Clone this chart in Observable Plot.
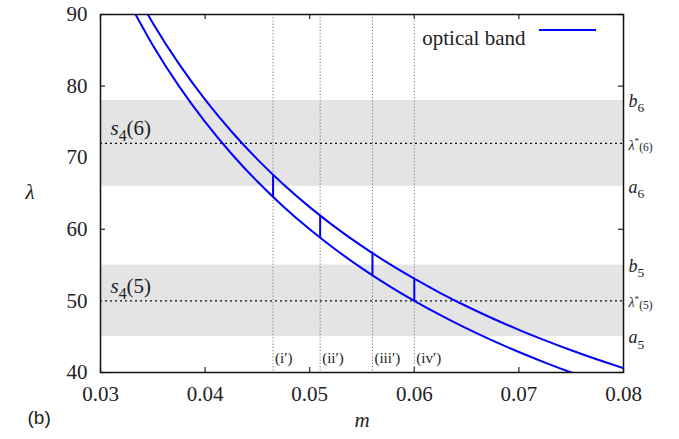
<!DOCTYPE html>
<html>
<head>
<meta charset="utf-8">
<script src="https://cdn.jsdelivr.net/npm/d3@7"></script>
<script src="https://cdn.jsdelivr.net/npm/@observablehq/plot@0.6"></script>
<style>
  html, body { margin: 0; padding: 0; background: #fff; }
  svg { display: block; }
  #chart svg text, #chart svg tspan { font-family: "Liberation Serif", "Times New Roman", serif; }
  #chart svg text.sans { font-family: "Liberation Sans", Arial, sans-serif; }
</style>
</head>
<body>
<div id="chart"></div>
<script>
// ---- data ----
const mGrid   = [0.0325, 0.035, 0.0375, 0.04, 0.0425, 0.045, 0.0475, 0.05, 0.0525, 0.055, 0.0575, 0.06, 0.0625, 0.065, 0.0675, 0.07, 0.0725, 0.075, 0.0775, 0.08];
const lowerLambda = [92.31, 85.71, 80.00, 75.00, 70.59, 66.67, 63.16, 60.00, 57.14, 54.55, 52.17, 50.00, 48.00, 46.15, 44.44, 42.86, 41.38, 40.00, 38.71, 37.50];
const upperLambda = [95.41, 88.81, 83.10, 78.10, 73.69, 69.77, 66.26, 63.10, 60.24, 57.65, 55.27, 53.10, 51.10, 49.25, 47.54, 45.96, 44.48, 43.10, 41.81, 40.60];

const cutM      = [0.0465, 0.051, 0.056, 0.060];
const cutLower  = [64.52, 58.82, 53.57, 50.00];
const cutUpper  = [67.62, 61.92, 56.67, 53.10];
const cutLabels = ["(i′)", "(ii′)", "(iii′)", "(iv′)"];

const bandA    = [66, 45];
const bandB    = [78, 55];
const bandStar = [72, 50];
const bandN    = ["6", "5"];

const xTicks = [0.03, 0.04, 0.05, 0.06, 0.07, 0.08];
const yTicks = [40, 50, 60, 70, 80, 90];
const legendLabel = "optical band";

// ---- tables built from the arrays ----
const lower = mGrid.map((m, i) => ({m, v: lowerLambda[i]}));
const upper = mGrid.map((m, i) => ({m, v: upperLambda[i]}));
const cuts = cutM.map((m, i) => ({m, lo: cutLower[i], hi: cutUpper[i], label: cutLabels[i]}));
const bands = bandA.map((a, i) => ({a, b: bandB[i], star: bandStar[i], n: bandN[i]}));
const edgeLabels = bands.flatMap(d => [
  {v: d.b, t: `<i>b</i><sub>${d.n}</sub>`},
  {v: d.a, t: `<i>a</i><sub>${d.n}</sub>`}
]);
const starLabels = bands.map(d => ({v: d.star, t: `<i>λ</i><sup>*</sup><small>(${d.n})</small>`}));
const sLabels = bands.map(d => ({v: d.star, t: `<i>s</i><sub>4</sub>(${d.n})`}));

const W = 679, H = 439, mL = 100, mR = 56, mT = 14, mB = 67;
const fw = W - mL - mR, fh = H - mT - mB;
const BLUE = "#0000ff", INK = "#222";
const serif = "Liberation Serif";

const plot = Plot.plot({
  width: W, height: H,
  marginLeft: mL, marginRight: mR, marginTop: mT, marginBottom: mB,
  style: {fontFamily: serif, fontSize: "21px", color: INK, background: "#fff"},
  x: {domain: [0.03, 0.08], axis: null},
  y: {domain: [40, 90], axis: null},
  marks: [
    // inward ticks on all four sides (under the bands, like the original)
    Plot.tickX(xTicks, {x: d => d, insetTop: fh - 5, stroke: INK, strokeWidth: 1.2}),
    Plot.tickX(xTicks, {x: d => d, insetBottom: fh - 5, stroke: INK, strokeWidth: 1.2}),
    Plot.tickY(yTicks, {y: d => d, insetRight: fw - 5, stroke: INK, strokeWidth: 1.2}),
    Plot.tickY(yTicks, {y: d => d, insetLeft: fw - 5, stroke: INK, strokeWidth: 1.2}),
    // grey bands
    Plot.rect(bands, {y1: "a", y2: "b", fill: "#e4e4e4"}),
    // dotted guides
    Plot.ruleX(cuts, {x: "m", stroke: "#777", strokeWidth: 1, strokeDasharray: "1.2,2"}),
    Plot.ruleY(bands, {y: "star", stroke: "#111", strokeWidth: 1.3, strokeDasharray: "2,3"}),
    // optical band curves
    Plot.line(lower, {x: "m", y: "v", stroke: BLUE, strokeWidth: 2, curve: "natural", clip: true}),
    Plot.line(upper, {x: "m", y: "v", stroke: BLUE, strokeWidth: 2, curve: "natural", clip: true}),
    Plot.ruleX(cuts, {x: "m", y1: "lo", y2: "hi", stroke: BLUE, strokeWidth: 2}),
    Plot.frame({stroke: "#111", strokeWidth: 1.5}),
    // axes
    Plot.axisX({ticks: xTicks, tickFormat: d3.format(".2f"), tickSize: 0, tickPadding: 14, label: null, fontSize: 21, fontFamily: serif}),
    Plot.axisY({ticks: yTicks, tickSize: 0, tickPadding: 13, label: null, fontSize: 21, fontFamily: serif}),
    // annotations
    Plot.text(cuts, {x: "m", text: "label", frameAnchor: "bottom", dx: 2, dy: -10, textAnchor: "start", fontSize: 15, fill: INK}),
    Plot.text(sLabels, {y: "v", text: "t", frameAnchor: "left", dx: 10, dy: -15, textAnchor: "start", fontSize: 21, fill: INK}),
    Plot.text(edgeLabels, {y: "v", text: "t", frameAnchor: "right", dx: 5, dy: 1, textAnchor: "start", fontSize: 18, fill: INK}),
    Plot.text(starLabels, {y: "v", text: "t", frameAnchor: "right", dx: 5, dy: 2, textAnchor: "start", fontSize: 14, fill: INK}),
    Plot.text([legendLabel], {text: d => d, frameAnchor: "top-right", dx: -98, dy: 16, textAnchor: "end", fontSize: 21, fill: INK}),
    Plot.text(["λ"], {text: d => d, frameAnchor: "left", dx: -75, dy: -1, fontSize: 21, fontStyle: "italic", fill: INK}),
    Plot.text(["m"], {text: d => d, frameAnchor: "bottom", dy: 54, fontSize: 21, fontStyle: "italic", fill: INK}),
    Plot.text(["(b)"], {text: d => d, frameAnchor: "bottom-left", dx: -73, dy: 51, fontSize: 19, fill: INK})
  ]
});

document.getElementById("chart").appendChild(plot);

// legend sample line
d3.select(plot).append("line")
  .attr("x1", W - mR - 84).attr("x2", W - mR - 27)
  .attr("y1", mT + 16).attr("y2", mT + 16)
  .attr("stroke", BLUE).attr("stroke-width", 2);

// panel tag in sans-serif, as in the original
plot.querySelectorAll("text").forEach(el => {
  if (el.textContent === "(b)") el.classList.add("sans");
});

// convert simple markup (<i>, <sub>, <sup>, <small>) into tspans
const NS = "http://www.w3.org/2000/svg";
plot.querySelectorAll("text").forEach(el => {
  const s = el.textContent;
  if (!s.includes("<")) return;
  const fs = parseFloat(getComputedStyle(el).fontSize) || 16;
  const re = /<(i|sub|sup|small)>(.*?)<\/\1>|([^<]+)/g;
  while (el.firstChild) el.removeChild(el.firstChild);
  let shift = 0, m;
  while ((m = re.exec(s))) {
    const tag = m[1] || "", content = m[2] ?? m[3];
    let target = 0, size = null, italic = false;
    if (tag === "sub") { target = 0.28 * fs; size = 0.75 * fs; }
    else if (tag === "sup") { target = -0.42 * fs; size = 0.65 * fs; }
    else if (tag === "small") { target = 0.1 * fs; size = 0.82 * fs; }
    else if (tag === "i") { italic = true; }
    const t = document.createElementNS(NS, "tspan");
    const dy = target - shift;
    if (dy !== 0) t.setAttribute("dy", dy.toFixed(2));
    shift = target;
    if (size) t.setAttribute("font-size", size.toFixed(1));
    if (italic) t.setAttribute("font-style", "italic");
    t.textContent = content;
    el.appendChild(t);
  }
});
</script>
</body>
</html>
